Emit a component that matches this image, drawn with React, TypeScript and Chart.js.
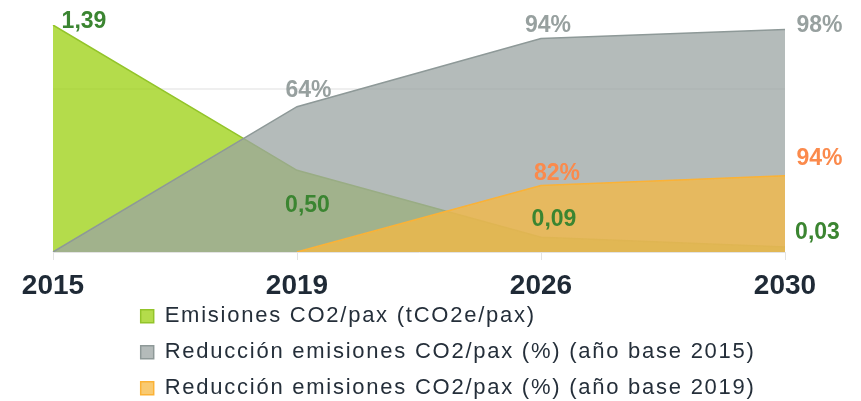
import React, { useEffect, useRef } from 'react';
import { Chart, registerables } from 'chart.js';

Chart.register(...registerables);

// ---- Data ----
const categories = ['2015', '2019', '2026', '2030'];
const emisiones = [1.39, 0.5, 0.09, 0.03];
const reduccion2015 = [0, 64, 94, 98];
const reduccion2019 = [null, 0, 82, 94];
const seriesNames = [
  'Emisiones CO2/pax (tCO2e/pax)',
  'Reducción emisiones CO2/pax (%) (año base 2015)',
  'Reducción emisiones CO2/pax (%) (año base 2019)',
];

// ---- Label placement (style, not data) ----
const emisionesLabelOffsets = [[31, -3], [10.5, 35.5], [13, -18], [32.5, -14]];
const red2015LabelOffsets = [[0, 0], [11.5, -16], [7, -12.5], [34.5, -3.5]];
const red2019LabelOffsets = [[0, 0], [0, 0], [16, -12], [34.5, -17]];

const FONT = '"Liberation Sans", Arial, Helvetica, sans-serif';

const fmtDecimal = (v: number) => v.toFixed(2).replace('.', ',');
const fmtPercent = (v: number) => `${v}%`;

const pointLabels = {
  id: 'pointLabels',
  afterDatasetsDraw(chart: any) {
    const ctx = chart.ctx;
    chart.data.datasets.forEach((ds: any, di: number) => {
      const meta = chart.getDatasetMeta(di);
      ds.data.forEach((v: number | null, i: number) => {
        if (v === null || v === 0) return;
        const el = meta.data[i];
        if (!el) return;
        const off = ds.labelOffsets[i];
        ctx.save();
        ctx.font = `bold 23px ${FONT}`;
        ctx.fillStyle = ds.labelColor;
        ctx.textAlign = 'center';
        ctx.textBaseline = 'middle';
        ctx.fillText(ds.labelFormat(v), el.x + off[0], el.y + off[1]);
        ctx.restore();
      });
    });
  },
};

const legendPlacement = {
  id: 'legendPlacement',
  afterLayout(chart: any) {
    const lg: any = chart.legend;
    if (!lg) return;
    lg.left = 118.7;
    lg.top = 283.2;
    lg.right = chart.width;
    lg.bottom = chart.height + 80;
    lg.width = lg.right - lg.left;
    lg.height = lg.bottom - lg.top;
    if (!lg._spacedPatch) {
      const orig = lg.draw;
      lg.draw = function (...args: any[]) {
        const c = this.ctx;
        c.save();
        try {
          c.letterSpacing = '1.75px';
        } catch (e) {}
        orig.apply(this, args);
        c.restore();
      };
      lg._spacedPatch = true;
    }
  },
};

export default function App() {
  const canvasRef = useRef<HTMLCanvasElement | null>(null);

  useEffect(() => {
    if (!canvasRef.current) return;
    Chart.defaults.font.family = FONT;

    const chart = new Chart(canvasRef.current, {
      type: 'line',
      data: {
        labels: categories,
        datasets: [
          {
            label: seriesNames[0],
            data: emisiones,
            yAxisID: 'yEm',
            order: 3,
            fill: 'origin',
            backgroundColor: 'rgba(155,208,15,0.75)',
            borderColor: '#93c42a',
            borderWidth: 1.5,
            pointRadius: 0,
            pointHoverRadius: 0,
            tension: 0,
            labelColor: '#3b8531',
            labelOffsets: emisionesLabelOffsets,
            labelFormat: fmtDecimal,
          } as any,
          {
            label: seriesNames[1],
            data: reduccion2015,
            yAxisID: 'yR15',
            order: 2,
            fill: 'origin',
            backgroundColor: 'rgba(155,164,163,0.75)',
            borderColor: '#8e9998',
            borderWidth: 1.5,
            pointRadius: 0,
            pointHoverRadius: 0,
            tension: 0,
            labelColor: '#97a09f',
            labelOffsets: red2015LabelOffsets,
            labelFormat: fmtPercent,
          } as any,
          {
            label: seriesNames[2],
            data: reduccion2019,
            yAxisID: 'yR19',
            order: 1,
            fill: 'origin',
            backgroundColor: 'rgba(247,184,65,0.75)',
            borderColor: '#fbb236',
            borderWidth: 1.5,
            pointRadius: 0,
            pointHoverRadius: 0,
            tension: 0,
            labelColor: '#fb8a4c',
            labelOffsets: red2019LabelOffsets,
            labelFormat: fmtPercent,
          } as any,
        ],
      },
      options: {
        animation: false,
        responsive: true,
        maintainAspectRatio: false,
        layout: { padding: { left: 45, right: 68, top: 17, bottom: 89.4 } },
        plugins: {
          tooltip: { enabled: false },
          legend: {
            display: true,
            position: 'chartArea',
            align: 'start',
            labels: {
              boxWidth: 13,
              boxHeight: 13,
              padding: 14,
              color: '#252f3a',
              font: { size: 22, family: FONT },
              sort: (a: any, b: any) => a.datasetIndex - b.datasetIndex,
            },
          },
        },
        scales: {
          x: {
            type: 'category',
            offset: false,
            grid: {
              display: true,
              drawOnChartArea: false,
              drawTicks: true,
              tickLength: 8,
              color: '#e3e3e3',
            },
            border: { display: true, color: '#e3e3e3' },
            ticks: {
              color: '#1f2a36',
              font: { size: 28, weight: 'bold', family: FONT },
              padding: 9,
              maxRotation: 0,
              autoSkip: false,
            },
          },
          yEm: {
            type: 'linear',
            position: 'left',
            min: 0,
            max: 1.39,
            ticks: { display: false, stepSize: 1 },
            grid: {
              drawTicks: false,
              lineWidth: 2,
              color: (c: any) => (c.tick && c.tick.value === 1 ? '#efefef' : 'rgba(0,0,0,0)'),
            },
            border: { display: false },
          },
          yR15: { type: 'linear', display: false, min: 0, max: 100 },
          yR19: { type: 'linear', display: false, min: 0, max: 280 },
        },
      } as any,
      plugins: [pointLabels, legendPlacement],
    });

    return () => chart.destroy();
  }, []);

  return (
    <div style={{ width: 845, height: 393, position: 'relative' }}>
      <canvas ref={canvasRef} style={{ display: 'block' }} />
    </div>
  );
}
